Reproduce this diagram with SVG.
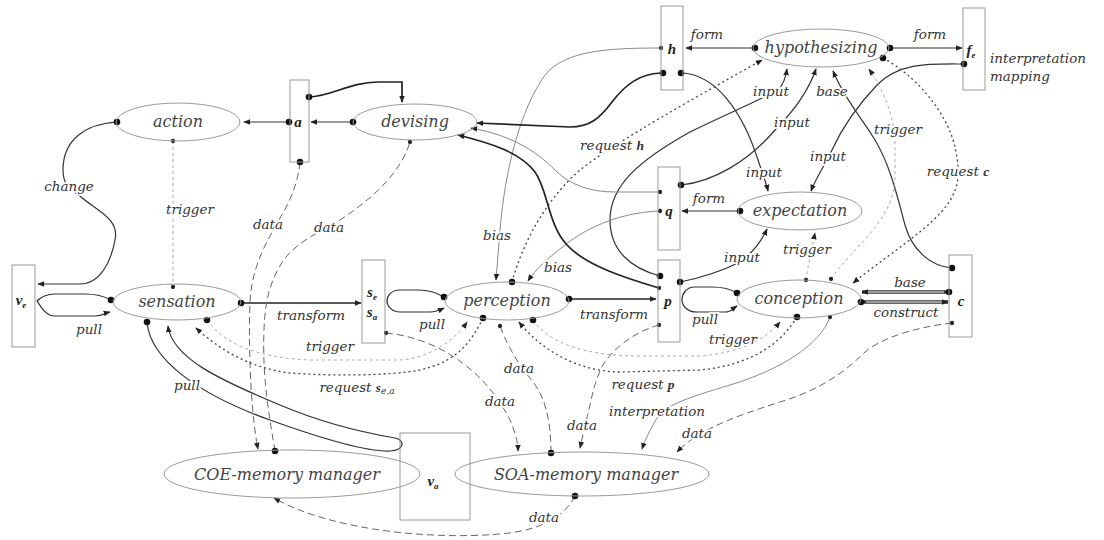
<svg xmlns="http://www.w3.org/2000/svg" width="1104" height="540" viewBox="0 0 1104 540">
<defs>
<marker id="arr" viewBox="0 0 10 10" refX="9" refY="5" markerWidth="7" markerHeight="7" markerUnits="userSpaceOnUse" orient="auto"><path d="M0,1 L10,5 L0,9 z" fill="#222"/></marker>
<marker id="dot" viewBox="-2 -2 14 14" refX="5" refY="5" markerWidth="10" markerHeight="10" markerUnits="userSpaceOnUse"><circle cx="5" cy="5" r="4.6" fill="#111"/></marker>
<marker id="sdot" viewBox="-2 -2 14 14" refX="5" refY="5" markerWidth="6.5" markerHeight="6.5" markerUnits="userSpaceOnUse"><circle cx="5" cy="5" r="4.6" fill="#222"/></marker>
<style>
.el{fill:none;stroke:#9a9a9a;stroke-width:1}
.bx{fill:none;stroke:#9a9a9a;stroke-width:1}
.s{fill:none;stroke:#333;stroke-width:1.2}
.t{fill:none;stroke:#222;stroke-width:1.7}
.g{fill:none;stroke:#8a8a8a;stroke-width:1}
.d{fill:none;stroke:#666;stroke-width:1;stroke-dasharray:7 4}
.r{fill:none;stroke:#444;stroke-width:1.3;stroke-dasharray:2 3}
.tr{fill:none;stroke:#aaa;stroke-width:1;stroke-dasharray:3 3}
.dbl{fill:none;stroke:#333;stroke-width:3.4}
.dbi{fill:none;stroke:#fff;stroke-width:1.1}
.ds{marker-start:url(#dot)}
.ss{marker-start:url(#sdot)}
.ae{marker-end:url(#arr)}
.se{marker-end:url(#sdot)}
.de{marker-end:url(#dot)}
.nl{font-family:"DejaVu Serif","Liberation Serif",serif;font-style:italic;font-size:16px;fill:#444;text-anchor:middle;stroke:#fff;stroke-width:3;paint-order:stroke}
.lb{font-family:"DejaVu Serif","Liberation Serif",serif;font-style:italic;font-size:13.5px;fill:#333;text-anchor:middle;stroke:#fff;stroke-width:3.5;paint-order:stroke}
.vl{font-family:"Liberation Serif","DejaVu Serif",serif;font-style:italic;font-weight:bold;font-size:15px;fill:#222;text-anchor:middle}
.sub{font-size:9px}
.bv{font-family:"Liberation Serif",serif;font-weight:bold;font-style:italic}
</style>
</defs>
<rect width="1104" height="540" fill="#fff"/>

<g id="connectors">
<path class="s ds ae" d="M289,122 L244,122"/>
<path class="s ds ae" d="M353,122 L311,122"/>
<path class="t ds ae" d="M309,97 C330,97 350,82 378,82 L402,82 L402,102"/>
<path class="s ds ae" d="M117,122 C85,124 63,140 63,170 C63,185 70,190 80,196 C95,210 120,218 115,240 C111,262 100,284 80,284 L38,284"/>
<path class="s ds ae" d="M111,300 C102,295 95,294 85,294 L55,294 C45,294 40,298 37,301 C40,305 45,316 55,316 L95,316 C102,316 106,313 110,312"/>
<path class="s ds ae" d="M444,297 C436,292 428,290 418,290 L400,290 C391,290 387,296 387,301 C387,306 392,312 400,312 L430,312 C436,312 440,310 444,308"/>
<path class="s ds ae" d="M737,293 C729,288 721,287 712,287 L695,287 C686,287 682,294 682,300 C682,306 688,312 696,312 L725,312 C731,312 734,308 737,306"/>
<path class="t ds ae" d="M241,303 L361,303"/>
<path class="t ds ae" d="M569,299 L656,299"/>
<path class="dbl ds ae" d="M949,292 L862,292"/>
<path class="dbi" d="M944,292 L868,292"/>
<path class="dbl ds ae" d="M861,302 L948,302"/>
<path class="dbi" d="M866,302 L942,302"/>
<path class="s ds ae" d="M755,48 L686,48"/>
<path class="s ds ae" d="M890,48 L962,48"/>
<path class="s ds ae" d="M740,211 L682,211"/>
<path class="s ds ae" d="M964,64 C930,64 900,62 877,85 C858,105 842,128 832,150 C825,165 815,180 811,191"/>
<path class="s ds ae" d="M681,73 C715,74 742,110 758,160 C762,172 766,182 768,191"/>
<path class="s ds ae" d="M681,185 C712,182 748,162 775,130 C795,110 808,92 816,69"/>
<path class="s ds ae" d="M660,276 C630,268 610,250 610,220 C610,185 640,160 690,132 C720,117 760,100 778,90 C783,85 786,76 787,69"/>
<path class="s ds ae" d="M680,282 C700,278 720,272 740,262 C752,253 762,240 767,229"/>
<path class="s ds ae" d="M952,268 C930,266 912,250 905,225 C897,195 890,165 875,140 C862,118 845,100 833,71"/>
<path class="r ds ae" d="M883,58 C915,75 952,115 957,158 C960,175 957,185 955,190 C945,220 900,245 853,283"/>
<path class="tr ss ae" d="M831,279 C850,250 893,222 895,180 L895,140 C893,110 880,85 869,69"/>
<path class="tr ss ae" d="M806,280 C808,265 812,248 815,233"/>
<path class="tr ss se" d="M173,141 L173,287"/>
<path class="tr ds ae" d="M207,320 C225,345 260,358 310,360 L400,360 C430,358 455,340 467,322"/>
<path class="tr ds ae" d="M533,320 C550,345 590,356 640,356 L700,356 C740,353 765,340 780,322"/>
<path class="r ds ae" d="M512,282 C522,245 545,200 580,170 C615,142 700,95 762,60"/>
<path class="g ss ae" d="M661,48 C610,48 565,50 545,75 C520,110 505,170 500,230 L496,280"/>
<path class="g ss ae" d="M660,211 C625,212 590,225 565,245 C548,258 535,270 528,281"/>
<path class="g ss ae" d="M660,192 L615,192 C590,192 570,185 555,170 C535,150 510,135 471,128"/>
<path class="t ds ae" d="M663,73 C640,73 625,85 612,102 C600,118 590,127 570,127 L477,123"/>
<path class="t ss ae" d="M659,288 C625,278 585,265 567,245 C548,225 548,190 535,172 C520,152 490,143 458,135"/>
<path class="d ds ae" d="M300,162 C298,185 288,205 280,218 C268,240 253,262 250,300 C248,360 252,420 258,449"/>
<path class="d ds se" d="M275,451 C270,420 262,380 264,330 C265,300 270,280 285,258 C300,240 320,232 340,220 C370,200 400,175 410,142"/>
<path class="d ss ae" d="M386,333 C410,335 440,345 465,365 C485,380 500,400 510,420 C515,432 518,442 518,451"/>
<path class="d ds se" d="M551,453 C551,420 545,395 530,378 C515,360 505,340 500,326"/>
<path class="d ss ae" d="M659,325 C640,330 615,345 603,365 C592,385 590,410 585,425 L580,448"/>
<path class="d ss ae" d="M952,323 C925,326 885,335 865,352 C845,372 820,390 780,402 C740,415 700,428 677,452"/>
<path class="d ds ae" d="M575,496 C565,515 545,530 500,534 C430,540 330,530 274,498"/>
<path class="g ss ae" d="M830,317 C820,345 780,370 730,385 C690,397 665,405 657,418 C650,430 645,440 642,449"/>
<path class="r ds ae" d="M797,317 C780,345 750,365 700,370 L620,372 C585,372 545,355 519,322"/>
<path class="r ds ae" d="M483,318 C470,345 455,362 420,370 C390,376 330,376 290,373 C250,368 220,350 196,328"/>
<path class="s ds ae" d="M147,322 C150,360 200,395 270,420 C320,438 365,452 390,451 C405,450 405,440 395,438 C360,432 320,422 280,405 C220,380 172,358 168,326"/>
</g>

<g id="node-ve"><rect class="bx" x="12" y="265" width="23" height="82"/><text class="vl" x="21" y="305">v<tspan class="sub" dy="3">e</tspan></text></g>
<g id="node-a"><rect class="bx" x="290" y="80" width="19" height="82"/><text class="vl" x="298" y="127">a</text></g>
<g id="node-s"><rect class="bx" x="362" y="260" width="23" height="83"/><text class="vl" x="372" y="297">s<tspan class="sub" dy="3">e</tspan></text><text class="vl" x="372" y="317">s<tspan class="sub" dy="3">a</tspan></text></g>
<g id="node-h"><rect class="bx" x="661" y="6" width="22" height="84"/><text class="vl" x="672" y="54">h</text></g>
<g id="node-q"><rect class="bx" x="658" y="167" width="22" height="83"/><text class="vl" x="669" y="216">q</text></g>
<g id="node-p"><rect class="bx" x="658" y="260" width="22" height="82"/><text class="vl" x="668" y="306">p</text></g>
<g id="node-fe"><rect class="bx" x="963" y="8" width="22" height="82"/><text class="vl" x="971" y="55">f<tspan class="sub" dy="3">e</tspan></text>
<text class="lb" x="990" y="63" style="text-anchor:start">interpretation</text><text class="lb" x="990" y="81" style="text-anchor:start">mapping</text></g>
<g id="node-c"><rect class="bx" x="949" y="255" width="23" height="82"/><text class="vl" x="961" y="306">c</text></g>
<g id="node-va"><rect class="bx" x="400" y="433" width="70" height="87"/><text class="vl" x="433" y="486">v<tspan class="sub" dy="3">a</tspan></text></g>

<g id="node-action"><ellipse class="el" cx="178" cy="122" rx="62" ry="19"/><text class="nl" x="178" y="127">action</text></g>
<g id="node-devising"><ellipse class="el" cx="415" cy="122" rx="62" ry="18"/><text class="nl" x="415" y="127">devising</text></g>
<g id="node-hypothesizing"><ellipse class="el" cx="821" cy="48" rx="68" ry="19"/><text class="nl" x="821" y="53">hypothesizing</text></g>
<g id="node-expectation"><ellipse class="el" cx="800" cy="211" rx="62" ry="19"/><text class="nl" x="800" y="216">expectation</text></g>
<g id="node-sensation"><ellipse class="el" cx="177" cy="302" rx="64" ry="18"/><text class="nl" x="177" y="307">sensation</text></g>
<g id="node-perception"><ellipse class="el" cx="507" cy="301" rx="62" ry="19"/><text class="nl" x="507" y="306">perception</text></g>
<g id="node-conception"><ellipse class="el" cx="799" cy="299" rx="62" ry="19"/><text class="nl" x="799" y="304">conception</text></g>
<g id="node-coe"><ellipse class="el" cx="292" cy="474" rx="128" ry="24"/><text class="nl" x="287" y="480" style="stroke-width:0">COE-memory manager</text></g>
<g id="node-soa"><ellipse class="el" cx="582" cy="474" rx="127" ry="22"/><text class="nl" x="586" y="480" style="stroke-width:0">SOA-memory manager</text></g>

<g id="edge-labels">
<text class="lb" x="69" y="191">change</text>
<text class="lb" x="190" y="214">trigger</text>
<text class="lb" x="268" y="229">data</text>
<text class="lb" x="329" y="232">data</text>
<text class="lb" x="89" y="334">pull</text>
<text class="lb" x="311" y="320">transform</text>
<text class="lb" x="330" y="351">trigger</text>
<text class="lb" x="357" y="392">request <tspan class="bv">s</tspan><tspan class="sub" dy="2">e,a</tspan></text>
<text class="lb" x="187" y="390">pull</text>
<text class="lb" x="432" y="329">pull</text>
<text class="lb" x="614" y="319">transform</text>
<text class="lb" x="705" y="324">pull</text>
<text class="lb" x="733" y="344">trigger</text>
<text class="lb" x="519" y="373">data</text>
<text class="lb" x="500" y="406">data</text>
<text class="lb" x="643" y="389">request <tspan class="bv">p</tspan></text>
<text class="lb" x="657" y="416">interpretation</text>
<text class="lb" x="582" y="430">data</text>
<text class="lb" x="697" y="438">data</text>
<text class="lb" x="544" y="522">data</text>
<text class="lb" x="910" y="287">base</text>
<text class="lb" x="906" y="317">construct</text>
<text class="lb" x="807" y="254">trigger</text>
<text class="lb" x="742" y="262">input</text>
<text class="lb" x="709" y="203">form</text>
<text class="lb" x="764" y="177">input</text>
<text class="lb" x="828" y="161">input</text>
<text class="lb" x="958" y="176">request <tspan class="bv">c</tspan></text>
<text class="lb" x="898" y="134">trigger</text>
<text class="lb" x="792" y="127">input</text>
<text class="lb" x="771" y="96">input</text>
<text class="lb" x="832" y="96">base</text>
<text class="lb" x="707" y="39">form</text>
<text class="lb" x="930" y="39">form</text>
<text class="lb" x="612" y="150">request <tspan class="bv">h</tspan></text>
<text class="lb" x="497" y="240">bias</text>
<text class="lb" x="558" y="272">bias</text>
</g>
</svg>
